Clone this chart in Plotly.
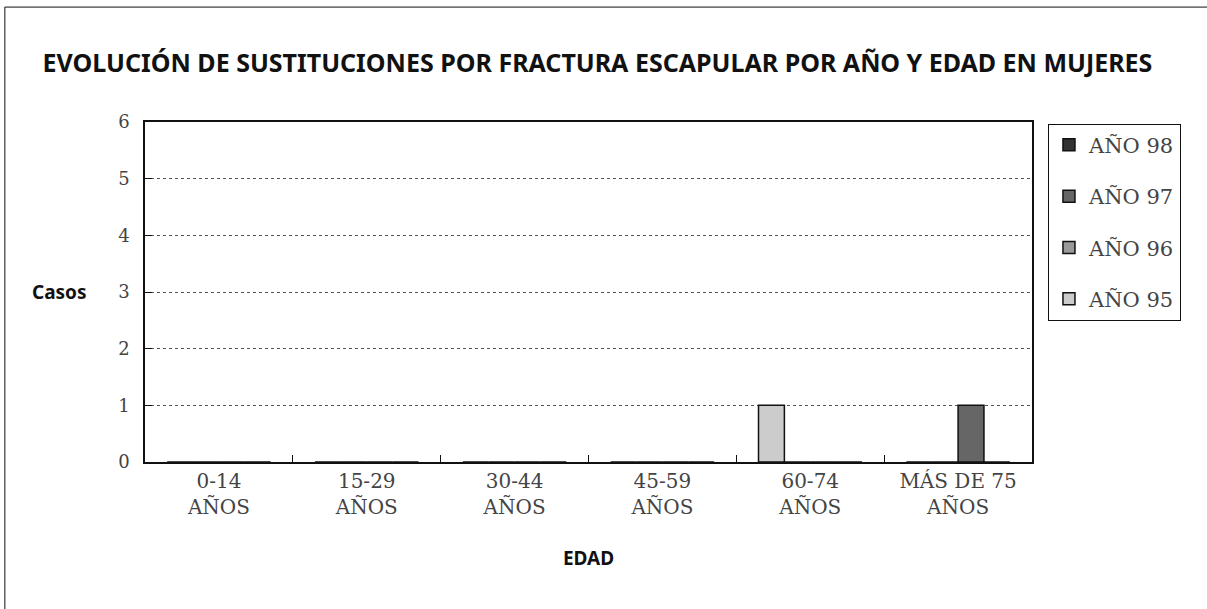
import plotly.graph_objects as go

edades = ['0-14<br>AÑOS', '15-29<br>AÑOS', '30-44<br>AÑOS', '45-59<br>AÑOS',
          '60-74<br>AÑOS', 'MÁS DE 75<br>AÑOS']
anyos = ['AÑO 95', 'AÑO 96', 'AÑO 97', 'AÑO 98']
casos_95 = [0, 0, 0, 0, 1, 0]
casos_96 = [0, 0, 0, 0, 0, 0]
casos_97 = [0, 0, 0, 0, 0, 1]
casos_98 = [0, 0, 0, 0, 0, 0]
colores = ['#cccccc', '#999999', '#666666', '#333333']

serif = 'DejaVu Serif'
sans = 'Noto Sans'

fig = go.Figure()
for i, (nombre, vals, color) in enumerate(zip(anyos, [casos_95, casos_96, casos_97, casos_98], colores)):
    fig.add_trace(go.Bar(x=edades, y=vals, name=nombre, legendgroup=nombre, legendrank=10 - i,
                         marker=dict(color=color, line=dict(color='#111111', width=1.5))))

fig.update_layout(
    width=1207, height=609,
    margin=dict(l=145, r=175, t=122, b=147),
    paper_bgcolor='white', plot_bgcolor='white',
    bargap=0.3, bargroupgap=0,
    title=dict(text='<b>EVOLUCIÓN DE SUSTITUCIONES POR FRACTURA ESCAPULAR POR AÑO Y EDAD EN MUJERES</b>',
               x=0.495, xanchor='center', y=0.896, yanchor='middle',
               font=dict(family=sans, size=25, color='#111111')),
    legend=dict(x=1.018, y=0.995, xanchor='left', yanchor='top',
                traceorder='grouped', tracegroupgap=21,
                bordercolor='#111111', borderwidth=1,
                font=dict(family=serif, size=21, color='#444444')),
    showlegend=True,
)
fig.update_xaxes(
    showline=True, linecolor='#111111', linewidth=1.5, mirror=True,
    ticks='inside', tickson='boundaries', ticklen=7, tickcolor='#111111',
    tickfont=dict(family=serif, size=20, color='#444444'),
    title=dict(text='<b>EDAD</b>', font=dict(family=sans, size=19, color='#111111'), standoff=34),
)
fig.update_yaxes(
    range=[0, 6], dtick=1, showline=True, linecolor='#111111', linewidth=1.5, mirror=True,
    ticks='inside', ticklen=7, tickcolor='#111111', ticklabelstandoff=10,
    showgrid=True, gridcolor='#555555', griddash='dot', gridwidth=1,
    zeroline=False,
    tickfont=dict(family=serif, size=18, color='#444444'),
)
fig.add_annotation(text='<b>Casos</b>', xref='paper', yref='paper', x=-0.063, y=0.5,
                   xanchor='right', yanchor='middle', showarrow=False,
                   font=dict(family=sans, size=19, color='#111111'))
# marco exterior (solo visible arriba e izquierda)
fig.add_shape(type='line', xref='paper', yref='paper', x0=-0.158, x1=1.25, y0=1.338, y1=1.338,
              line=dict(color='#111111', width=1))
fig.add_shape(type='line', xref='paper', yref='paper', x0=-0.158, x1=-0.158, y0=1.338, y1=-0.5,
              line=dict(color='#111111', width=1))

fig.write_html('out.html', config={'displayModeBar': False},
               post_script="document.body.style.margin='0';")
